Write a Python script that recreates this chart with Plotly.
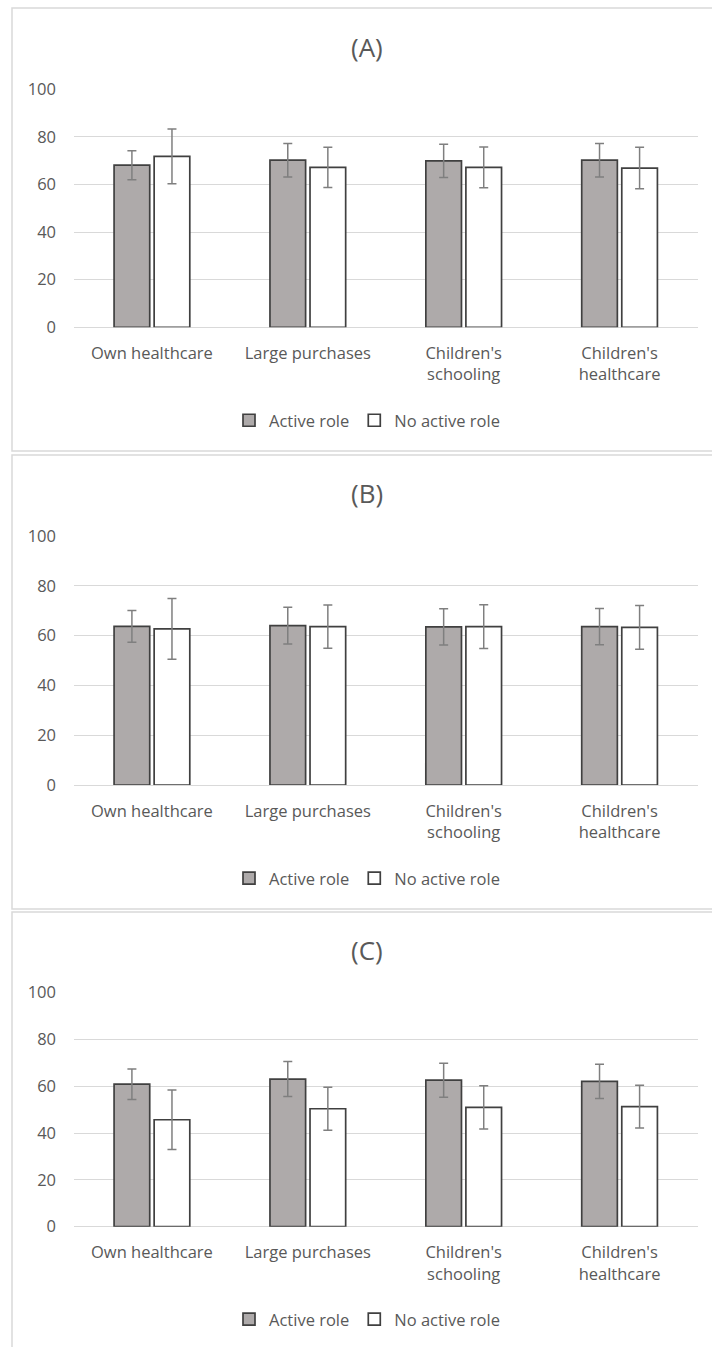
import plotly.graph_objects as go

# ---------------- data ----------------
categories = ["Own healthcare", "Large purchases", "Children's schooling", "Children's healthcare"]
tick_labels = ["Own healthcare", "Large purchases", "Children's<br>schooling", "Children's<br>healthcare"]
series_names = ["Active role", "No active role"]
panel_titles = ["(A)", "(B)", "(C)"]
y_ticks = [0, 20, 40, 60, 80, 100]

A_active = [68.1, 70.2, 69.9, 70.2]
A_active_err = [6.1, 7.0, 7.0, 7.0]
A_none = [71.8, 67.2, 67.2, 66.9]
A_none_err = [11.5, 8.5, 8.6, 8.7]

B_active = [63.7, 64.0, 63.5, 63.6]
B_active_err = [6.4, 7.4, 7.3, 7.3]
B_none = [62.7, 63.6, 63.6, 63.3]
B_none_err = [12.2, 8.7, 8.75, 8.75]

C_active = [60.9, 63.1, 62.6, 62.1]
C_active_err = [6.5, 7.5, 7.3, 7.35]
C_none = [45.7, 50.4, 51.0, 51.3]
C_none_err = [12.75, 9.2, 9.2, 9.1]

# ---------------- layout helpers ----------------
W, H = 712, 1347
def px_x(x):
    return x / W
def px_y(y):
    return 1 - y / H

FONT = "Open Sans, Noto Sans, sans-serif"
TXT = "#595959"
GRID = "#d9d9d9"
ACTIVE_FILL = "#aeaaaa"
EDGE = "#404040"
ERR = "#7f7f7f"

x_dom = [px_x(74), px_x(697.5)]
panels = [
    dict(name="A", active=A_active, aerr=A_active_err, none=A_none, nerr=A_none_err,
         ytop=89.3, ybot=327.3, title_y=46.7, legend_y=420.5, frame=(8, 451)),
    dict(name="B", active=B_active, aerr=B_active_err, none=B_none, nerr=B_none_err,
         ytop=536.0, ybot=785.0, title_y=493.3, legend_y=878.5, frame=(455, 909)),
    dict(name="C", active=C_active, aerr=C_active_err, none=C_none, nerr=C_none_err,
         ytop=992.7, ybot=1226.7, title_y=950.0, legend_y=1319.5, frame=(912, 1420)),
]

fig = go.Figure()
layout = dict(
    width=W, height=H,
    margin=dict(l=0, r=0, t=0, b=0, pad=0, autoexpand=False),
    paper_bgcolor="white", plot_bgcolor="white",
    barmode="group", bargap=0.486, bargroupgap=0.11,
    font=dict(family=FONT, color=TXT, size=16),
    showlegend=True,
)
annotations = []
shapes = []

for i, p in enumerate(panels):
    sfx = "" if i == 0 else str(i + 1)
    xa, ya = "x" + sfx, "y" + sfx
    leg = "legend" + sfx
    fig.add_trace(go.Bar(
        x=categories, y=p["active"], name=series_names[0],
        xaxis=xa, yaxis=ya, legend=leg, offsetgroup="a",
        marker=dict(color=ACTIVE_FILL, line=dict(color=EDGE, width=1.7)),
        error_y=dict(type="data", array=p["aerr"], color=ERR, thickness=1.5, width=4.5),
        hoverinfo="skip",
    ))
    fig.add_trace(go.Bar(
        x=categories, y=p["none"], name=series_names[1],
        xaxis=xa, yaxis=ya, legend=leg, offsetgroup="b",
        marker=dict(color="white", line=dict(color=EDGE, width=1.7)),
        error_y=dict(type="data", array=p["nerr"], color=ERR, thickness=1.5, width=4.5),
        hoverinfo="skip",
    ))
    layout["xaxis" + sfx] = dict(
        domain=x_dom, anchor=ya, type="category",
        tickmode="array", tickvals=categories, ticktext=tick_labels,
        showgrid=False, showline=False, ticks="", zeroline=False,
        tickfont=dict(family=FONT, size=16.5, color=TXT),
        ticklabelstandoff=14, automargin=False,
    )
    layout["yaxis" + sfx] = dict(
        domain=[px_y(p["ybot"]), px_y(p["ytop"])], anchor=xa,
        range=[0, 100], tickmode="array", tickvals=y_ticks,
        showgrid=True, gridcolor=GRID, gridwidth=1.2,
        zeroline=True, zerolinecolor=GRID, zerolinewidth=1.2,
        showline=False, ticks="",
        tickfont=dict(family=FONT, size=16.5, color=TXT),
        ticklabelstandoff=17, automargin=False,
    )
    layout[leg] = dict(
        orientation="h", x=px_x(367), xanchor="center",
        y=px_y(p["legend_y"]), yanchor="middle",
        font=dict(family=FONT, size=16.5, color=TXT),
        bgcolor="rgba(0,0,0,0)", itemwidth=30, tracegroupgap=0,
        itemclick=False, itemdoubleclick=False,
    )
    annotations.append(dict(
        text=panel_titles[i], xref="paper", yref="paper",
        x=px_x(367), y=px_y(p["title_y"]), xanchor="center", yanchor="middle",
        showarrow=False, font=dict(family=FONT, size=26, color=TXT),
    ))
    shapes.append(dict(
        type="rect", xref="paper", yref="paper", layer="below",
        x0=px_x(12), x1=1.02, y0=px_y(p["frame"][1]), y1=px_y(p["frame"][0]),
        line=dict(color="#d9d9d9", width=1.5), fillcolor="rgba(0,0,0,0)",
    ))

layout["annotations"] = annotations
layout["shapes"] = shapes
fig.update_layout(**layout)
fig.write_html("out.html", config={"displayModeBar": False},
               post_script="document.body.style.margin='0px';")
